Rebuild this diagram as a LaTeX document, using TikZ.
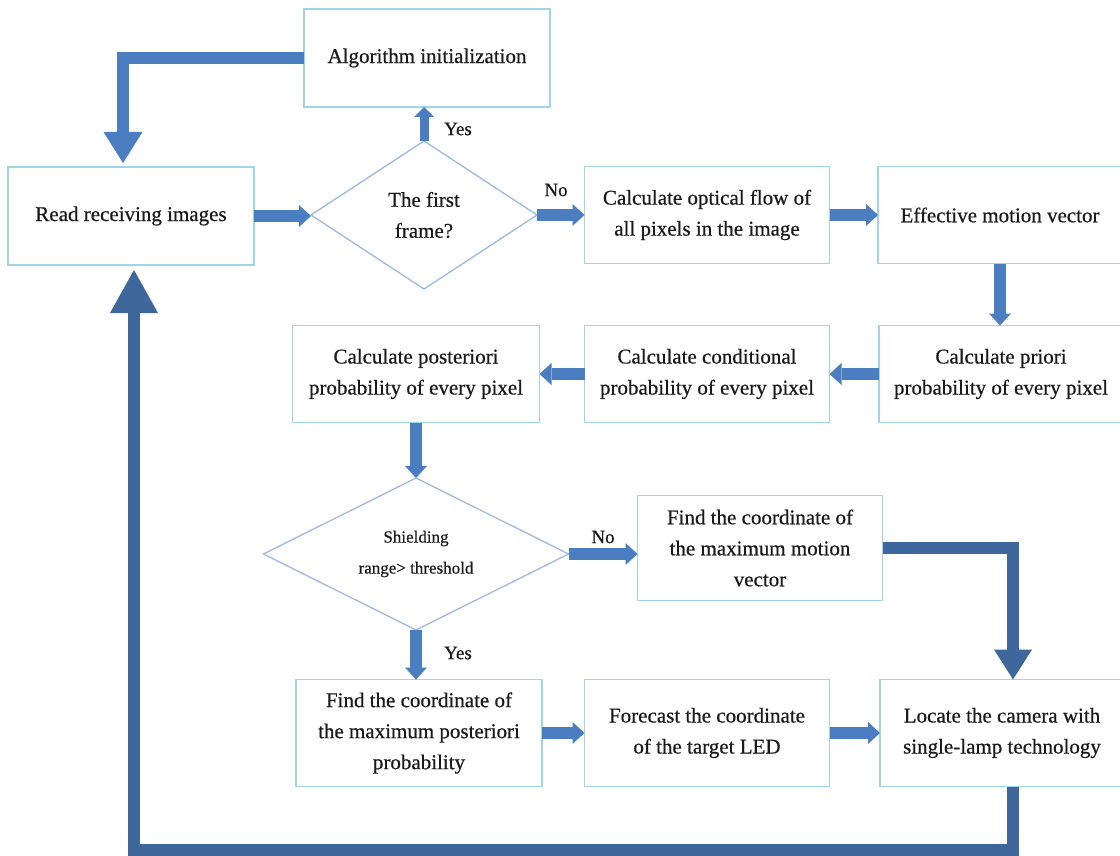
\documentclass[tikz,border=0pt]{standalone}
\usepackage{fontspec}
\setmainfont{Liberation Serif}[FakeBold=0.5]
\usetikzlibrary{arrows.meta,shapes.geometric}
\definecolor{boxline}{HTML}{A0D5E8}
\definecolor{dialine}{HTML}{9DB9E2}
\definecolor{arrowc}{HTML}{4A7EC1}
\definecolor{arrowd}{HTML}{3E679C}
\definecolor{textc}{HTML}{1A1A1A}
\begin{document}
\begin{tikzpicture}[x=1pt,y=-1pt,
  box/.style={draw=boxline,line width=1.5pt,fill=white,align=center,inner sep=0pt,outer sep=0pt,
    text=textc,font=\fontsize{21pt}{31pt}\selectfont,minimum width=245pt,minimum height=97pt},
  dia/.style={diamond,draw=dialine,line width=1.3pt,fill=white,align=center,inner sep=0pt,outer sep=0pt,
    aspect=2,text=textc},
  lbl/.style={text=textc,font=\fontsize{19pt}{22pt}\selectfont,inner sep=0pt},
  arrS/.style={draw=arrowc,line width=12pt,-{Triangle[width=22pt,length=12pt,line width=0pt]}},
  arrY/.style={draw=arrowc,line width=9pt,-{Triangle[width=20pt,length=10pt,line width=0pt]}},
  arrB/.style={draw=arrowc,line width=12pt,-{Triangle[width=39pt,length=31pt,line width=0pt]}},
  arrD/.style={draw=arrowd,line width=12pt,-{Triangle[width=38pt,length=30pt,line width=0pt]}},
  arrH/.style={draw=arrowd,line width=12pt,-{Triangle[width=48pt,length=43pt,line width=0pt]}}
]
\useasboundingbox[fill=white] (0,0) rectangle (1120,856);

% nodes
\node[box,minimum width=246pt,minimum height=98pt] (init) at (427,58) {Algorithm initialization};
\node[box,minimum width=246pt,minimum height=98pt] (read) at (131,216) {Read receiving images};
\node[dia,minimum width=226pt,minimum height=148pt,font=\fontsize{21pt}{31pt}\selectfont] (first) at (424,215) {The first\\frame?};
\node[box] (optical) at (707,215) {Calculate optical flow of\\all pixels in the image};
\node[box,minimum width=244pt] (effective) at (1000,215) {Effective motion vector};
\node[box,minimum width=244pt] (priori) at (1001,374) {Calculate priori\\probability of every pixel};
\node[box] (cond) at (707,374) {Calculate conditional\\probability of every pixel};
\node[box,minimum width=247pt] (post) at (416,374) {Calculate posteriori\\probability of every pixel};
\node[dia,minimum width=305pt,minimum height=152pt,font=\fontsize{17pt}{31pt}\selectfont] (shield) at (416,554) {Shielding\\range> threshold};
\node[box,minimum height=105pt] (maxmotion) at (760,548) {Find the coordinate of\\the maximum motion\\vector};
\node[box,minimum width=246pt,minimum height=107pt] (maxpost) at (419,733) {Find the coordinate of\\the maximum posteriori\\probability};
\node[box,minimum height=107pt] (forecast) at (707,733) {Forecast the coordinate\\of the target LED};
\node[box,minimum width=244pt,minimum height=107pt] (locate) at (1002,733) {Locate the camera with\\single-lamp technology};

\coordinate (loopc) at (134,850);

% labels
\node[lbl] (yes1) at (458,129) {Yes};
\node[lbl] (no1) at (556,190) {No};
\node[lbl] (no2) at (603,537) {No};
\node[lbl] (yes2) at (458,653) {Yes};

% connectors
\draw[arrB,shorten >=4pt] (init.west) -| ([xshift=-8pt]read.north);
\draw[arrS] (read.east) -- (read.east -| first.west);
\draw[arrY] (first.north) -- (first.north |- init.south);
\draw[arrS] (first.east) -- (optical.west);
\draw[arrS] (optical.east) -- (effective.west);
\draw[arrS] (effective.south) -- (effective.south |- priori.north);
\draw[arrS] (priori.west) -- (cond.east);
\draw[arrS] (cond.west) -- (post.east);
\draw[arrS] (post.south) -- (shield.north);
\draw[arrS] (shield.east) -- (shield.east -| maxmotion.west);
\draw[arrS] (shield.south) -- (shield.south |- maxpost.north);
\draw[arrS] (maxpost.east) -- (forecast.west);
\draw[arrS] (forecast.east) -- (locate.west);
\draw[arrD] (maxmotion.east) -| ([xshift=11pt]locate.north);
\draw[arrH,shorten >=5pt] ([xshift=11pt]locate.south) |- (loopc) -- (loopc |- read.south);
\end{tikzpicture}
\end{document}
